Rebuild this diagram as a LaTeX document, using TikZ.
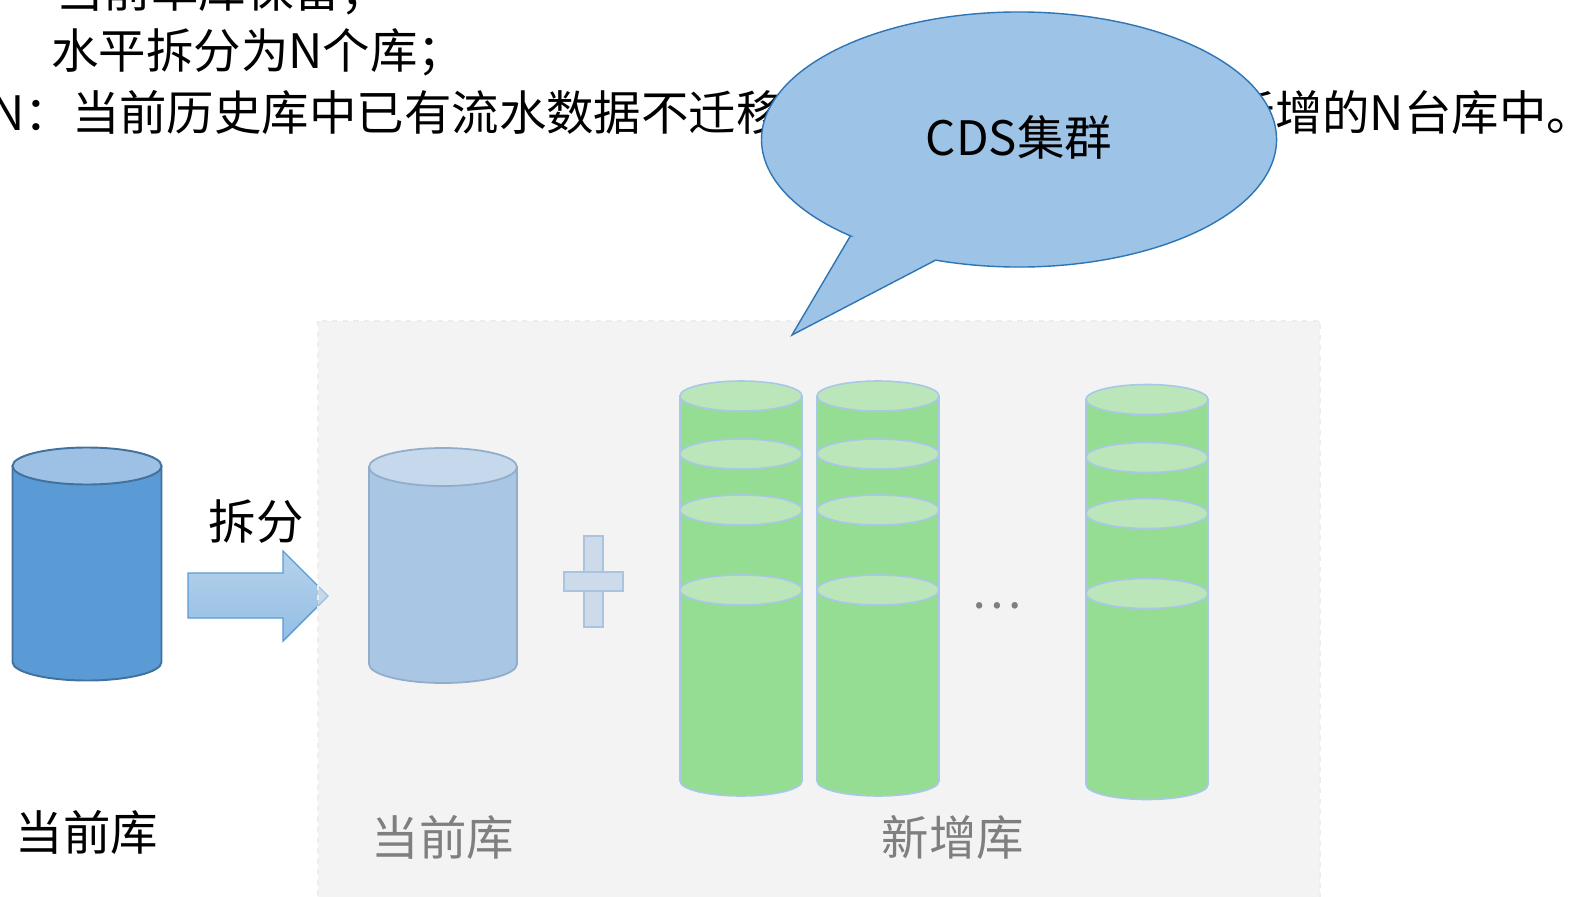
\documentclass[tikz,border=0pt]{standalone}
\usepackage{fontspec}
\setmainfont{Noto Sans CJK SC}
\usetikzlibrary{calc}
\definecolor{dbblue}{HTML}{5B9BD5}
\definecolor{dbline}{HTML}{41719C}
\definecolor{dbtop}{HTML}{9DC1E5}
\definecolor{oldfill}{HTML}{A9C6E4}
\definecolor{oldline}{HTML}{93ADC9}
\definecolor{oldtop}{HTML}{C5D8EC}
\definecolor{newfill}{HTML}{96DD94}
\definecolor{newtop}{HTML}{BBE6BA}
\definecolor{newline}{HTML}{A9C7E7}
\definecolor{plusfill}{HTML}{CCDAEA}
\definecolor{plusline}{HTML}{A9C3E0}
\definecolor{bubfill}{HTML}{9DC3E6}
\definecolor{bubline}{HTML}{2E75B6}
\definecolor{softgray}{HTML}{7F7F7F}

\newcommand{\bigtxt}{\fontsize{27}{32}\selectfont}
% drum body: cx, top, bottom, rx, ry, style
\newcommand{\drum}[6]{%
  \path[#6] (#1-#4,#2) -- (#1-#4,#3)
    arc[start angle=180, end angle=0, x radius=#4, y radius=#5] -- (#1+#4,#2) -- cycle;}
% disk: cx, y, rx, ry, style
\newcommand{\disk}[5]{\path[#5] (#1,#2) ellipse[x radius=#3, y radius=#4];}

\begin{document}
\begin{tikzpicture}[x=0.02cm, y=-0.02cm,
  every node/.style={font=\bigtxt, inner sep=0pt},
  curbody/.style={fill=dbblue, draw=dbline, line width=1.1pt},
  curtop/.style={fill=dbtop, draw=dbline, line width=1.1pt},
  oldbody/.style={fill=oldfill, draw=oldline, line width=1pt},
  oldtopd/.style={fill=oldtop, draw=oldline, line width=1pt},
  newbody/.style={fill=newfill, draw=newline, line width=0.9pt},
  newdisk/.style={fill=newtop, draw=newline, line width=0.9pt},
  blockarrow/.style={top color=dbblue!45, bottom color=dbblue!65, draw=dbblue, line width=0.8pt},
  panel/.style={fill=black!9, fill opacity=0.5, draw=black!7, dashed, line width=0.6pt},
  plusbar/.style={fill=plusfill, draw=plusline, line width=0.8pt},
  bubble/.style={fill=bubfill, draw=bubline, line width=0.8pt, line join=miter},
  graylbl/.style={text=softgray},
]
\clip (0,0) rectangle (1572,896);

% notes at the top
\node[anchor=west] (l1) at (56,-9) {当前单库保留；};
\node[anchor=west] (l2) at (51,52) {水平拆分为N个库；};
\node[anchor=west] (l3) at (-10,113) {N：当前历史库中已有流水数据不迁移，\hspace{0.34cm}新增流水数据写入新增的N台库中。};

% current db + split arrow
\drum{87}{466}{662}{74.5}{18.5}{curbody}
\disk{87}{466}{74.5}{18.5}{curtop}
\node (cur) at (87,832) {当前库};
\draw[blockarrow] (188,573) -- (283,573) -- (283,551) -- (328,596)
  -- (283,641) -- (283,618) -- (188,618) -- cycle;
\node (split) at (256,522) {拆分};

\path[panel] (318,321) rectangle (1320,910);

% after split
\drum{443}{467}{664}{74}{19}{oldbody}
\disk{443}{467}{74}{19}{oldtopd}
\node[graylbl] (oldlbl) at (443,837) {当前库};

\path[plusbar] (584,536) rectangle (603,627);
\path[plusbar] (564,572) rectangle (623,591);
\path[fill=plusfill] (584.6,572.6) rectangle (602.4,590.4);

\foreach \cx/\sh in {741/0, 878/0, 1147/3.5} {
  \drum{\cx}{396+\sh}{781+\sh}{61}{15}{newbody}
  \foreach \yy in {396, 454, 510, 590} {
    \disk{\cx}{\yy+\sh}{61}{15}{newdisk}
  }
}
\node[graylbl] (dots) at (997,606) {…};
\node[graylbl] (newlbl) at (953,837) {新增库};

% CDS callout
\coordinate (bub) at (1019,139.5);
\coordinate (tip) at (792,335);
\path[bubble] ($(bub)+(130.9:257.5 and 127.5)$) -- (tip)
  -- ($(bub)+(108.9:257.5 and 127.5)$)
  arc[start angle=108.9, end angle=-229.1, x radius=257.5, y radius=127.5] -- cycle;
\node (cds) at (1019,137) {CDS集群};
\end{tikzpicture}
\end{document}
